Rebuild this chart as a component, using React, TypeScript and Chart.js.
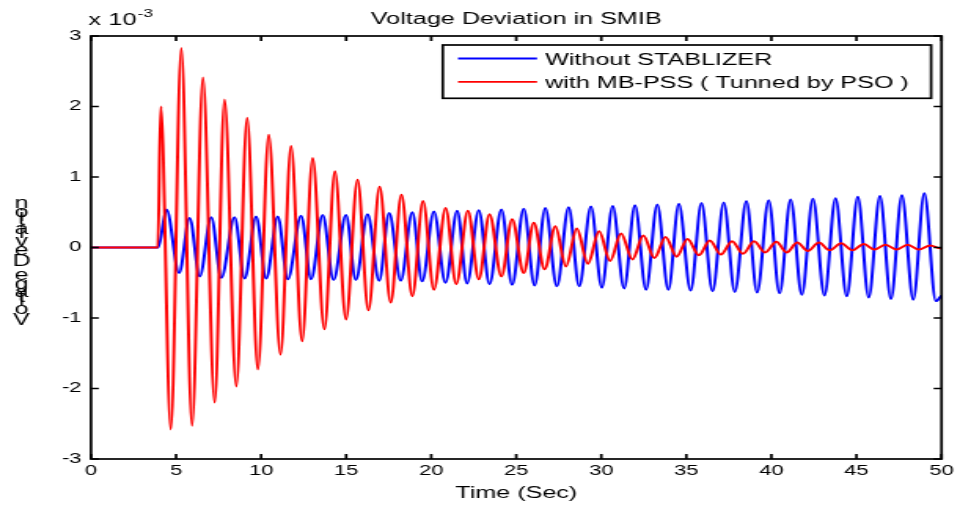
import React, { useEffect, useRef } from 'react';
import { Chart, registerables } from 'chart.js';

Chart.register(...registerables);

// Original figure is rendered at 611x506 and stretched horizontally to 960x506.
const CANVAS_W = 611;
const CANVAS_H = 506;
const FONT = '"Liberation Sans", Arial, Helvetica, sans-serif';

const titleText = 'Voltage Deviation in SMIB';
const xAxisLabel = 'Time (Sec)';
const yAxisLabel = 'Voltage Deviation';
const seriesLabels = ['Without STABLIZER', 'with MB-PSS ( Tunned by PSO )'];
const seriesColors = ['#0000ff', '#ff0000'];

const xTicks = [0, 5, 10, 15, 20, 25, 30, 35, 40, 45, 50];
const yTicks = [-3, -2, -1, 0, 1, 2, 3];

// Without stabilizer (blue): time (s) and deviation (x 10^-3), read at extrema
const blueTime = [
  0, 3.95, 4.44, 5.18, 5.8, 6.39, 7.07, 7.66, 8.44, 9.03, 9.71, 10.3, 10.98, 11.57,
  12.35, 12.94, 13.62, 14.26, 14.99, 15.57, 16.26, 16.94, 17.53, 18.21, 18.89, 19.47,
  20.16, 20.84, 21.53, 22.11, 22.8, 23.43, 24.13, 24.76, 25.44, 26.08, 26.71, 27.39,
  28.08, 28.7, 29.39, 30.03, 30.67, 31.34, 31.98, 32.63, 33.29, 33.94, 34.56, 35.25,
  35.89, 36.54, 37.2, 37.85, 38.53, 39.16, 39.84, 40.48, 41.13, 41.79, 42.44, 43.12,
  43.77, 44.43, 45.08, 45.72, 46.38, 47.03, 47.67, 48.34, 48.99, 49.67, 50,
];
const blueValue = [
  0, 0, 0.54, -0.36, 0.42, -0.41, 0.43, -0.43, 0.43, -0.44, 0.44, -0.44, 0.44, -0.45,
  0.45, -0.45, 0.46, -0.46, 0.46, -0.46, 0.47, -0.47, 0.49, -0.47, 0.5, -0.48,
  0.51, -0.5, 0.52, -0.51, 0.53, -0.52, 0.54, -0.53, 0.55, -0.54, 0.56, -0.55,
  0.57, -0.55, 0.58, -0.57, 0.59, -0.58, 0.6, -0.6, 0.61, -0.6, 0.62, -0.61,
  0.63, -0.62, 0.64, -0.63, 0.66, -0.64, 0.67, -0.65, 0.68, -0.67, 0.69, -0.68,
  0.7, -0.69, 0.72, -0.71, 0.73, -0.73, 0.74, -0.74, 0.77, -0.76, -0.68,
];

// With MB-PSS tuned by PSO (red)
const redTime = [
  0, 3.93, 4.1, 4.69, 5.31, 5.94, 6.58, 7.27, 7.85, 8.54, 9.18, 9.81, 10.45, 11.14,
  11.76, 12.41, 13.03, 13.72, 14.34, 14.99, 15.67, 16.31, 16.97, 17.62, 18.25, 18.89,
  19.52, 20.16, 20.85, 21.47, 22.16, 22.8, 23.43, 24.13, 24.76, 25.44, 26.03, 26.67,
  27.3, 27.92, 28.56, 29.21, 29.87, 30.52, 31.16, 31.83, 32.47, 33.12, 33.78, 34.43,
  35.07, 35.74, 36.38, 37.03, 37.69, 38.33, 38.98, 39.63, 40.29, 40.9, 41.52, 42.14,
  42.79, 43.43, 44.1, 44.76, 45.43, 46.06, 46.7, 47.36, 48.01, 48.66, 49.34, 49.9, 50,
];
const redValue = [
  0, 0, 2.0, -2.58, 2.83, -2.53, 2.41, -2.2, 2.1, -1.97, 1.84, -1.73, 1.6, -1.52,
  1.44, -1.33, 1.27, -1.16, 1.08, -1.02, 0.96, -0.89, 0.86, -0.78, 0.75, -0.69,
  0.66, -0.6, 0.56, -0.52, 0.52, -0.45, 0.47, -0.41, 0.4, -0.36, 0.35, -0.31,
  0.3, -0.27, 0.27, -0.23, 0.23, -0.19, 0.2, -0.17, 0.17, -0.15, 0.15, -0.13,
  0.12, -0.11, 0.1, -0.1, 0.09, -0.09, 0.09, -0.07, 0.08, -0.07, 0.07, -0.05,
  0.07, -0.04, 0.06, -0.04, 0.05, -0.03, 0.04, -0.03, 0.04, -0.03, 0.03, -0.01, -0.01,
];

export default function App() {
  const ref = useRef<HTMLCanvasElement | null>(null);

  useEffect(() => {
    document.body.style.margin = '0';
    const canvas = ref.current;
    if (!canvas) return;

    const decor = {
      id: 'decor',
      afterDatasetsDraw(chart: any) {
        const ctx: CanvasRenderingContext2D = chart.ctx;
        const { left, right, top, bottom } = chart.chartArea;
        const xs = chart.scales.x;
        const ys = chart.scales.y;
        ctx.save();
        ctx.strokeStyle = '#000';
        ctx.fillStyle = '#000';
        ctx.lineWidth = 1.7;
        // box
        ctx.strokeRect(left, top, right - left, bottom - top);
        // inward ticks
        ctx.beginPath();
        for (const v of xTicks) {
          const px = xs.getPixelForValue(v);
          ctx.moveTo(px, bottom);
          ctx.lineTo(px, bottom - 5);
          ctx.moveTo(px, top);
          ctx.lineTo(px, top + 5);
        }
        for (const v of yTicks) {
          const py = ys.getPixelForValue(v);
          ctx.moveTo(left, py);
          ctx.lineTo(left + 5, py);
          ctx.moveTo(right, py);
          ctx.lineTo(right - 5, py);
        }
        ctx.stroke();

        // title
        ctx.font = `16px ${FONT}`;
        ctx.textAlign = 'center';
        ctx.textBaseline = 'alphabetic';
        ctx.fillText(titleText, (left + right) / 2, 24);

        // exponent
        ctx.textAlign = 'left';
        ctx.fillText('x', 56.2, 25);
        ctx.fillText('10', 69, 25);
        ctx.font = `11px ${FONT}`;
        ctx.fillText('-3', 87.5, 17);

        // x axis label
        ctx.font = `16px ${FONT}`;
        ctx.textAlign = 'center';
        ctx.fillText(xAxisLabel, (left + right) / 2, 498);

        // y axis label (glyphs stacked upright)
        let yy = 325;
        for (const ch of yAxisLabel) {
          const w = ctx.measureText(ch).width;
          if (ch !== ' ') ctx.fillText(ch, 13.7, yy);
          yy -= w;
        }

        // legend
        const lx0 = 281.8, lx1 = 592.6, ly0 = 45, ly1 = 98.3;
        ctx.fillStyle = '#fff';
        ctx.fillRect(lx0, ly0, lx1 - lx0, ly1 - ly0);
        ctx.strokeStyle = '#000';
        ctx.lineWidth = 1.7;
        ctx.strokeRect(lx0, ly0, lx1 - lx0, ly1 - ly0);
        const rows = [58.5, 81.8];
        rows.forEach((ry, i) => {
          ctx.strokeStyle = seriesColors[i];
          ctx.lineWidth = 1.8;
          ctx.beginPath();
          ctx.moveTo(291.5, ry);
          ctx.lineTo(341.8, ry);
          ctx.stroke();
          ctx.fillStyle = '#000';
          ctx.font = `16px ${FONT}`;
          ctx.textAlign = 'left';
          ctx.textBaseline = 'alphabetic';
          ctx.fillText(seriesLabels[i], 346.9, ry + 6.3);
        });
        ctx.restore();
      },
    };

    const chart = new Chart(canvas, {
      type: 'line',
      data: {
        datasets: [
          {
            label: seriesLabels[0],
            data: blueTime.map((t, i) => ({ x: t, y: blueValue[i] })),
            borderColor: seriesColors[0],
            backgroundColor: seriesColors[0],
            borderWidth: 2,
            pointRadius: 0,
            fill: false,
            cubicInterpolationMode: 'monotone',
            order: 1,
          },
          {
            label: seriesLabels[1],
            data: redTime.map((t, i) => ({ x: t, y: redValue[i] })),
            borderColor: seriesColors[1],
            backgroundColor: seriesColors[1],
            borderWidth: 2,
            pointRadius: 0,
            fill: false,
            cubicInterpolationMode: 'monotone',
            order: 0,
          },
        ],
      },
      options: {
        responsive: false,
        animation: false,
        devicePixelRatio: 1,
        layout: { padding: { left: 0, top: 36, right: 10.2, bottom: 0 } },
        plugins: {
          legend: { display: false },
          title: { display: false },
          tooltip: { enabled: false },
        },
        scales: {
          x: {
            type: 'linear',
            min: 0,
            max: 50,
            afterBuildTicks: (s: any) => {
              s.ticks = xTicks.map((v) => ({ value: v }));
            },
            grid: { display: false, drawTicks: false },
            border: { display: false },
            ticks: {
              padding: 4,
              color: '#000',
              font: { family: FONT, size: 14 },
              maxRotation: 0,
              autoSkip: false,
            },
            afterFit: (s: any) => {
              s.height = 47;
            },
          },
          y: {
            type: 'linear',
            min: -3,
            max: 3,
            afterBuildTicks: (s: any) => {
              s.ticks = yTicks.map((v) => ({ value: v }));
            },
            grid: { display: false, drawTicks: false },
            border: { display: false },
            ticks: {
              padding: 6,
              color: '#000',
              font: { family: FONT, size: 14 },
              autoSkip: false,
            },
            afterFit: (s: any) => {
              s.width = 57.9;
            },
          },
        },
      } as any,
      plugins: [decor],
    });

    return () => chart.destroy();
  }, []);

  return (
    <canvas
      ref={ref}
      width={CANVAS_W}
      height={CANVAS_H}
      style={{ width: '960px', height: '506px', display: 'block' }}
    />
  );
}
